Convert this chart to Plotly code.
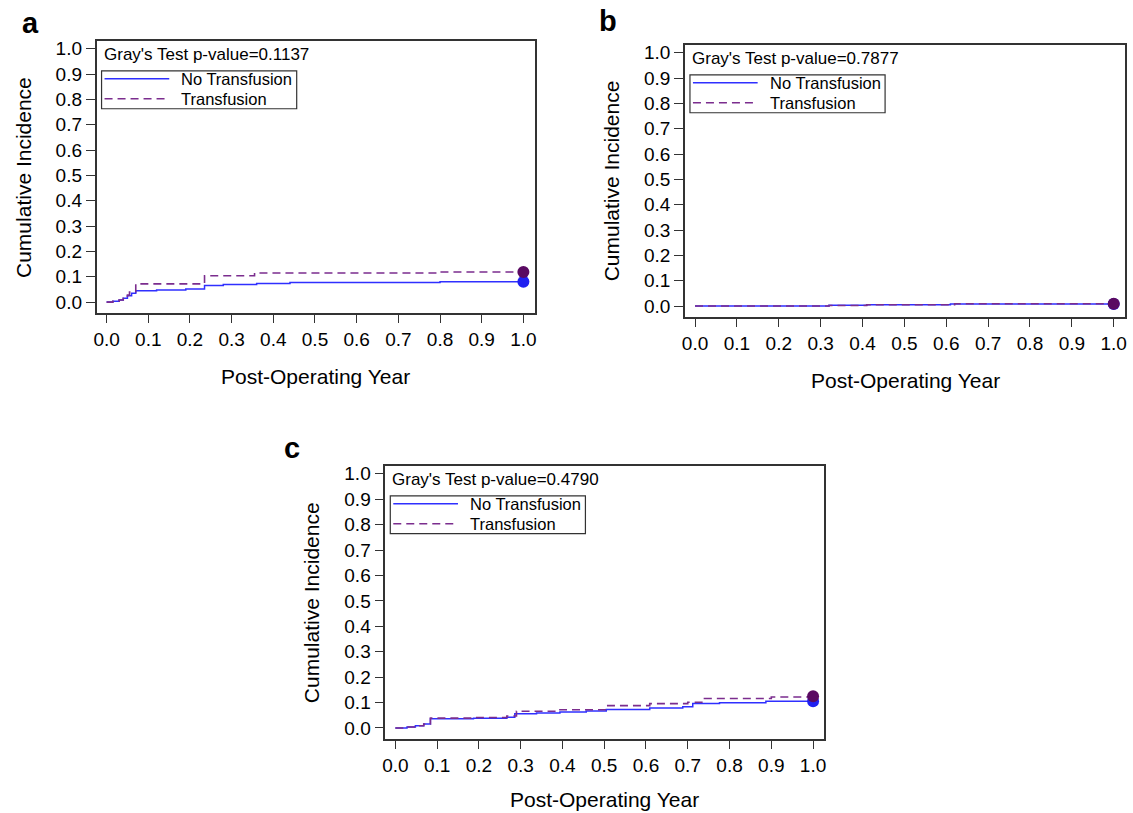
import plotly.graph_objects as go

W, H = 1133, 813

# ---------------- data ----------------
panel_labels = ["a", "b", "c"]
p_values = ["0.1137", "0.7877", "0.4790"]
series_names = ["No Transfusion", "Transfusion"]
tick_vals = [0.0, 0.1, 0.2, 0.3, 0.4, 0.5, 0.6, 0.7, 0.8, 0.9, 1.0]
tick_text = ["0.0", "0.1", "0.2", "0.3", "0.4", "0.5", "0.6", "0.7", "0.8", "0.9", "1.0"]

# panel a
a_no_t = [0.0, 0.015, 0.03, 0.04, 0.05, 0.06, 0.07, 0.12, 0.19, 0.235, 0.28, 0.36, 0.44, 0.80, 1.0]
a_no_ci = [0.0, 0.003, 0.008, 0.015, 0.025, 0.035, 0.045, 0.048, 0.052, 0.065, 0.069, 0.073, 0.077, 0.080, 0.080]
a_tr_t = [0.0, 0.015, 0.03, 0.04, 0.05, 0.055, 0.07, 0.235, 0.355, 0.80, 1.0]
a_tr_ci = [0.0, 0.003, 0.008, 0.015, 0.028, 0.040, 0.072, 0.104, 0.115, 0.119, 0.119]

# panel b
b_no_t = [0.0, 0.32, 0.41, 0.61, 1.0]
b_no_ci = [0.0, 0.003, 0.005, 0.008, 0.008]
b_tr_t = [0.0, 0.32, 0.41, 0.62, 1.0]
b_tr_ci = [0.0, 0.002, 0.005, 0.009, 0.009]

# panel c
c_no_t = [0.0, 0.028, 0.048, 0.068, 0.084, 0.187, 0.267, 0.286, 0.338, 0.394, 0.457, 0.505, 0.609, 0.688, 0.712, 0.776, 0.887, 1.0]
c_no_ci = [0.0, 0.004, 0.009, 0.016, 0.036, 0.038, 0.042, 0.056, 0.059, 0.063, 0.067, 0.073, 0.079, 0.084, 0.096, 0.099, 0.105, 0.105]
c_tr_t = [0.0, 0.028, 0.048, 0.068, 0.084, 0.187, 0.267, 0.29, 0.394, 0.505, 0.609, 0.70, 0.74, 0.90, 1.0]
c_tr_ci = [0.0, 0.004, 0.009, 0.016, 0.039, 0.041, 0.047, 0.066, 0.072, 0.088, 0.096, 0.101, 0.116, 0.122, 0.125]

panels = [
    (a_no_t, a_no_ci, a_tr_t, a_tr_ci),
    (b_no_t, b_no_ci, b_tr_t, b_tr_ci),
    (c_no_t, c_no_ci, c_tr_t, c_tr_ci),
]

# ---------------- layout (pixel geometry of each frame) ----------------
frames = [(94, 534, 39, 312), (685, 1127, 43, 316), (384, 825, 465, 739)]  # left, right, top, bottom
letter_pos = [(28, 21), (608, 19), (290, 447)]

FONT = "Arial, Liberation Sans, sans-serif"
BLUE = "#2f2fff"
PURPLE = "#7b2d8e"
BLUE_DOT = "#2020f0"
PURPLE_DOT = "#5a0a62"
AXC = "#333333"
DASH = "8px,5px"


def px(x):
    return x / W


def py(y):
    return 1 - y / H


fig = go.Figure()
annotations = []
shapes = []
layout = dict(
    width=W, height=H, margin=dict(l=0, r=0, t=0, b=0),
    paper_bgcolor="white", plot_bgcolor="white",
    font=dict(family=FONT, color="black"),
    showlegend=False,
)

for i, ((nt, nci, tt, tci), (L, R, T, B)) in enumerate(zip(panels, frames)):
    sfx = "" if i == 0 else str(i + 1)
    xa, ya = "x" + sfx, "y" + sfx

    fig.add_trace(go.Scatter(x=nt, y=nci, mode="lines", line=dict(color=BLUE, width=1.5, shape="hv"),
                             name=series_names[0], xaxis=xa, yaxis=ya))
    fig.add_trace(go.Scatter(x=tt, y=tci, mode="lines",
                             line=dict(color=PURPLE, width=1.6, shape="hv", dash=DASH),
                             name=series_names[1], xaxis=xa, yaxis=ya))
    fig.add_trace(go.Scatter(x=[nt[-1]], y=[nci[-1]], mode="markers",
                             marker=dict(color=BLUE_DOT, size=12), xaxis=xa, yaxis=ya))
    fig.add_trace(go.Scatter(x=[tt[-1]], y=[tci[-1]], mode="markers",
                             marker=dict(color=PURPLE_DOT, size=12), xaxis=xa, yaxis=ya))

    common = dict(showline=True, mirror=True, linecolor=AXC, linewidth=1.6, ticks="outside",
                  tickcolor=AXC, tickwidth=1.4, showgrid=False, zeroline=False,
                  tickvals=tick_vals, ticktext=tick_text, tickfont=dict(size=19, family=FONT, color="black"))
    layout["xaxis" + sfx] = dict(common, domain=[px(L), px(R)], range=[-0.024, 1.027], anchor=ya,
                                 ticklen=8)
    layout["yaxis" + sfx] = dict(common, domain=[py(B), py(T)], range=[-0.044, 1.031], anchor=xa,
                                 ticklen=9)

    # legend box (drawn to match the reference's inner legend)
    shapes.append(dict(type="rect", xref="paper", yref="paper", x0=px(L + 5), x1=px(L + 201),
                       y0=py(T + 68), y1=py(T + 30), line=dict(color=AXC, width=1.2),
                       fillcolor="white", layer="above"))
    for row, (name, col, dash) in enumerate(zip(series_names, [BLUE, PURPLE], ["solid", DASH])):
        yy = T + 38 + 20 * row
        shapes.append(dict(type="line", xref="paper", yref="paper", x0=px(L + 8), x1=px(L + 73),
                           y0=py(yy), y1=py(yy), line=dict(color=col, width=1.5, dash=dash), layer="above"))
        annotations.append(dict(text=name, xref="paper", yref="paper", x=px(L + 83), y=py(yy),
                                xanchor="left", yanchor="middle", showarrow=False,
                                font=dict(size=16.5, family=FONT, color="black")))

    annotations.append(dict(text="Gray's Test p-value=" + p_values[i], xref="paper", yref="paper",
                            x=px(L + 5), y=py(T + 14), xanchor="left", yanchor="middle", showarrow=False,
                            font=dict(size=17, family=FONT, color="black")))
    annotations.append(dict(text="Post-Operating Year", xref="paper", yref="paper",
                            x=px((L + R) / 2), y=py(min(B + 63, H - 14)), xanchor="center", yanchor="middle",
                            showarrow=False, font=dict(size=21, family=FONT, color="black")))
    annotations.append(dict(text="Cumulative Incidence", xref="paper", yref="paper",
                            x=px(L - 74), y=py((T + B) / 2), xanchor="center", yanchor="middle",
                            textangle=-90, showarrow=False, font=dict(size=21, family=FONT, color="black")))
    lx, ly = letter_pos[i]
    annotations.append(dict(text="<b>" + panel_labels[i] + "</b>", xref="paper", yref="paper",
                            x=px(lx), y=py(ly), xanchor="center", yanchor="middle", showarrow=False,
                            font=dict(size=29, family=FONT, color="black")))

layout["annotations"] = annotations
layout["shapes"] = shapes
fig.update_layout(**layout)

fig.write_html("out.html", config={"displayModeBar": False},
               post_script="document.body.style.margin='0';")
